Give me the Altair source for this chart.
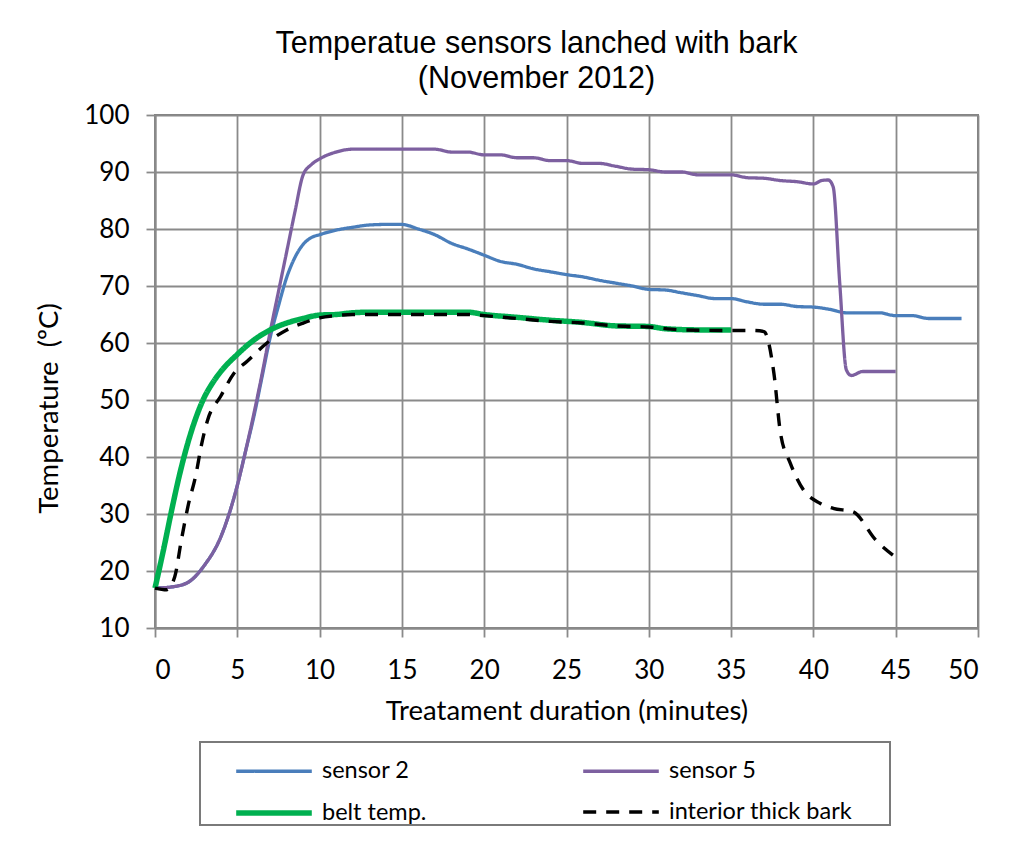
import altair as alt
import pandas as pd

# ---- data ----
series_names = ["sensor 2", "sensor 5", "belt  temp.", "interior thick bark"]
series_colors = ["#4a7ebb", "#7d60a0", "#00b050", "#000000"]
series_widths = [3.3, 3.3, 5.5, 3.4]
legend_order = ["sensor 2", "belt  temp.", "sensor 5", "interior thick bark"]

s2_x = [0, 1, 2, 3, 4, 5, 5.5, 6, 6.5, 7, 7.5, 8, 8.5, 9, 9.5,
        10, 11, 12, 13, 14, 15, 16, 17, 18, 19, 20, 21, 22, 23, 24, 25, 26, 27, 28, 29,
        30, 31, 32, 33, 34, 35, 36, 37, 38, 39, 40, 41, 42, 43, 44, 45, 46, 47, 48, 49]
s2_y = [17, 17.2, 18, 21, 26, 35, 41, 47, 54, 61, 66.5, 71.5, 75, 77.3, 78.5,
        79, 79.8, 80.3, 80.7, 80.8, 80.8, 80, 79, 77.5, 76.5, 75.4, 74.3, 73.8, 73, 72.5, 72, 71.6, 71, 70.5, 70,
        69.4, 69.3, 68.8, 68.3, 67.8, 67.8, 67.2, 66.8, 66.8, 66.4, 66.3, 65.9, 65.3, 65.3, 65.3, 64.8, 64.8, 64.3, 64.3, 64.3]

s5_x = [0, 1, 2, 3, 4, 5, 5.5, 6, 6.5, 7, 7.5, 8, 8.5, 9, 9.5,
        10, 11, 12, 13, 14, 15, 16, 17, 18, 19, 20, 21, 22, 23, 24, 25, 26, 27, 28, 29,
        30, 31, 32, 33, 34, 35, 36, 37, 38, 39, 40,
        40.5, 40.9, 41.2, 41.6, 42, 42.3, 43, 44, 45]
s5_y = [17, 17.2, 18, 21, 26, 35, 41, 47.5, 54.5, 62, 69, 76, 83, 89.5, 91.3,
        92.3, 93.5, 94, 94, 94, 94, 94, 94, 93.5, 93.5, 93, 93, 92.5, 92.5, 92, 92, 91.5, 91.5, 91, 90.5,
        90.4, 90, 90, 89.5, 89.5, 89.5, 89, 88.9, 88.5, 88.3, 87.9,
        88.5, 88.6, 87.4, 70.5, 55.3, 54.3, 55, 55, 55]

belt_x = [0, 0.5, 1, 1.5, 2, 2.5, 3, 3.5, 4, 5, 6, 7, 8, 9, 10, 11, 12, 13, 15, 17,
          19, 20, 22, 24, 26, 28, 30, 31, 33, 35]
belt_y = [17, 23.5, 30.5, 37, 42.5, 47, 50.5, 53, 55, 58, 60.5, 62.3, 63.5, 64.3, 64.9, 65, 65.3, 65.4, 65.4, 65.4,
          65.4, 65, 64.5, 64, 63.6, 63, 62.9, 62.5, 62.3, 62.3]

bark_x = [0, 0.7, 1.2, 1.6, 2, 2.5, 2.8, 3.2, 4, 4.8, 5.6, 6.8, 8, 9, 10, 11, 12, 15, 19, 20,
          22, 24, 26, 28, 30, 32, 35, 36.3, 37, 37.6, 38, 38.6, 39.4, 40.4, 41.2, 42.4, 43.8, 45.1]
bark_y = [17, 16.7, 19, 25.4, 31.3, 37.1, 41.8, 46.5, 50.7, 54.7, 56.8, 60, 62.3, 63.5, 64.4, 64.8, 65, 65, 65, 64.8,
          64.3, 63.8, 63.5, 63, 62.8, 62.3, 62.2, 62.2, 62, 54.7, 44.2, 38.9, 34.2, 31.9, 31, 30.4, 25.4, 22.2]

x_ticks = list(range(0, 51, 5))
y_ticks = list(range(10, 101, 10))

frames = []
for name, xs, ys in zip(series_names, [s2_x, s5_x, belt_x, bark_x], [s2_y, s5_y, belt_y, bark_y]):
    frames.append(pd.DataFrame({"series": name, "t": xs, "temp": ys}))
df = pd.concat(frames, ignore_index=True)

lookup = dict(zip(series_names, zip(series_colors, series_widths)))
leg_colors = [lookup[n][0] for n in legend_order]
leg_widths = [lookup[n][1] for n in legend_order]
leg_dash = [[13, 10] if n == "interior thick bark" else [1, 0] for n in legend_order]

FONT = "Lato"
GRID = "#8a8a8a"

# blank legend title on the right only widens the legend box
leg = alt.Legend(title="\u00a0", titleOrient="right", titlePadding=38, titleFontSize=10)

x_enc = alt.X("t:Q", scale=alt.Scale(domain=[0, 50], nice=False),
              axis=alt.Axis(values=x_ticks, title="Treatament duration (minutes)",
                            labelPadding=20, titlePadding=14))
y_enc = alt.Y("temp:Q", scale=alt.Scale(domain=[10, 100], nice=False, zero=False),
              axis=alt.Axis(values=y_ticks, title="Temperature\u00a0\u00a0(ºC)", labelPadding=17,
                            titleAngle=-90, titleX=-98, titleY=293, titleAlign="center",
                            titleBaseline="alphabetic"))
color_enc = alt.Color("series:N", legend=leg,
                      scale=alt.Scale(domain=legend_order, range=leg_colors))
dash_enc = alt.StrokeDash("series:N", legend=leg,
                          scale=alt.Scale(domain=legend_order, range=leg_dash))
width_enc = alt.StrokeWidth("series:N", legend=leg,
                            scale=alt.Scale(type="ordinal", domain=legend_order, range=leg_widths))

layers = []
for name in series_names:
    layers.append(
        alt.Chart(df).transform_filter(alt.datum.series == name)
        .mark_line(interpolate="monotone", strokeCap="butt", strokeJoin="round")
        .encode(x=x_enc, y=y_enc, color=color_enc, strokeDash=dash_enc, strokeWidth=width_enc,
                order="t:Q")
    )

chart = alt.layer(*layers).properties(
    width=823, height=513,
    autosize=alt.AutoSizeParams(type="none"),
    padding={"left": 155, "top": 115, "right": 53, "bottom": 218},
    title=alt.TitleParams(
        text=["Temperatue sensors lanched with bark", "(November 2012)"],
        font="Liberation Sans", fontSize=30.5, fontWeight="normal", color="black",
        anchor="middle", dx=-30, offset=8, lineHeight=35),
).configure_view(
    stroke="#808080", strokeWidth=2
).configure_axis(
    labelFont=FONT, labelFontSize=26, labelColor="black",
    titleFont=FONT, titleFontSize=27.5, titleFontWeight="normal", titleColor="black",
    gridColor=GRID, gridWidth=1.8, gridOpacity=1,
    domainColor=GRID, domainWidth=2,
    tickColor=GRID, tickWidth=1.8, tickSize=9,
).configure_legend(
    orient="none", legendX=45, legendY=627, columns=2,
    strokeColor="#7a7a7a", strokeWidth=2, fillColor="white", padding=0,
    symbolType="M-1.4,0H1.4", symbolSize=2916, symbolOffset=44,
    labelFont=FONT, labelFontSize=23.5, labelColor="black", labelOffset=18, labelLimit=400,
    columnPadding=114, rowPadding=-8,
)

chart.save("out.html", embed_options={"renderer": "svg", "actions": False})
